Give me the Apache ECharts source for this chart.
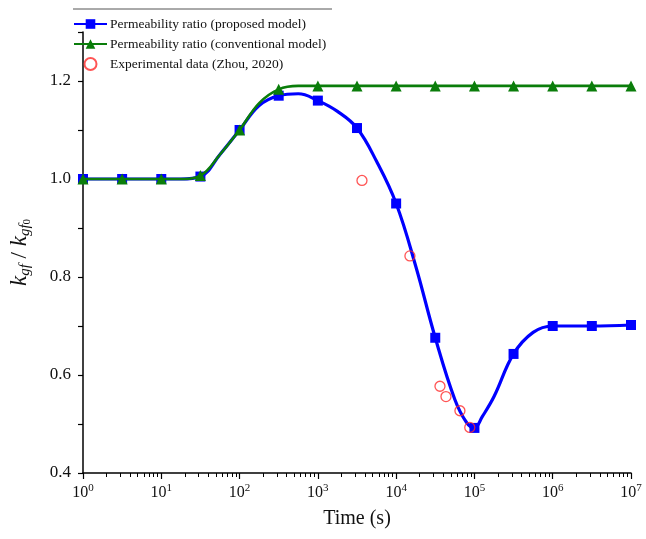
<!DOCTYPE html>
<html><head><meta charset="utf-8">
<script src="https://cdn.jsdelivr.net/npm/echarts@6/dist/echarts.min.js"></script>
<style>html,body{margin:0;padding:0;background:#fff}#c{width:646px;height:539px}</style>
</head><body><div id="c"></div>
<script>
// Time points for the model curves (s)
const timeCurve = [1, 1.78, 3.16, 5.62, 10, 17.8, 31.6, 56.2, 100, 178, 316, 562, 1000, 1780, 3160, 5620, 10000, 17800, 31600, 56200, 79400, 100000, 126000, 178000, 316000, 562000, 1000000, 3160000, 10000000];
// Proposed model values
const proposedVals = [1.0, 1.0, 1.0, 1.0, 1.0, 1.0, 1.005, 1.05, 1.10, 1.15, 1.17, 1.174, 1.16, 1.138, 1.104, 1.036, 0.95, 0.822, 0.676, 0.55, 0.503, 0.492, 0.515, 0.556, 0.643, 0.687, 0.70, 0.70, 0.702];
// Conventional model values
const conventionalVals = [1.0, 1.0, 1.0, 1.0, 1.0, 1.0, 1.007, 1.05, 1.10, 1.155, 1.183, 1.19, 1.19, 1.19, 1.19, 1.19, 1.19, 1.19, 1.19, 1.19, 1.19, 1.19, 1.19, 1.19, 1.19, 1.19, 1.19, 1.19, 1.19];
// Times at which markers are drawn
const markerTimes = [1, 3.16, 10, 31.6, 100, 316, 1000, 3160, 10000, 31600, 100000, 316000, 1000000, 3160000, 10000000];
// Experimental data (Zhou, 2020)
const expTime = [3660, 15000, 36300, 43300, 65300, 87200];
const expVals = [0.997, 0.843, 0.577, 0.556, 0.527, 0.493];

const names = ['Permeability ratio (proposed model)', 'Permeability ratio (conventional model)', 'Experimental data (Zhou, 2020)'];

function build(vals) {
  return timeCurve.map((t, i) => {
    const item = { value: [t, vals[i]] };
    if (markerTimes.indexOf(t) < 0) item.symbol = 'none';
    return item;
  });
}
// minor tick positions (log10 of 2..9 per decade)
const minorPos = [];
for (let d = 0; d < 7; d++) for (let m = 2; m <= 9; m++) minorPos.push(d + Math.log10(m));

const font = 'Liberation Serif';
const chart = echarts.init(document.getElementById('c'));
chart.setOption({
  backgroundColor: '#fff',
  animation: false,
  textStyle: { fontFamily: font },
  grid: { left: 83, right: 15, top: 32, bottom: 66, containLabel: false },
  legend: {
    orient: 'vertical', left: 73, top: 17, padding: 0, itemWidth: 33, itemHeight: 12, itemGap: 6,
    textStyle: { fontFamily: font, fontSize: 13.5, lineHeight: 12, color: '#111', padding: [0, 0, 0, -2] },
    data: [
      { name: names[0] },
      { name: names[1] },
      { name: names[2], icon: 'circle' }
    ]
  },
  graphic: [{ type: 'line', shape: { x1: 73, y1: 9, x2: 332, y2: 9 }, style: { stroke: '#555', lineWidth: 1 } }],
  xAxis: [{
    type: 'log', logBase: 10, min: 1, max: 10000000,
    name: 'Time (s)', nameLocation: 'middle', nameGap: 36,
    nameTextStyle: { fontFamily: font, fontSize: 20, color: '#111' },
    axisLine: { lineStyle: { color: '#000', width: 1.5 } },
    axisTick: { inside: false, length: 6, lineStyle: { color: '#000', width: 1.2 } },
    splitLine: { show: false },
    axisLabel: {
      color: '#111', margin: 10,
      formatter: v => '{b|10}{e|' + Math.round(Math.log10(v)) + '}',
      rich: { b: { fontFamily: font, fontSize: 16, color: '#111' }, e: { fontFamily: font, fontSize: 11, color: '#111', verticalAlign: 'top', padding: [0, 0, 8, 0] } }
    }
  }, {
    type: 'value', min: 0, max: 7, position: 'bottom',
    axisLine: { show: false }, axisLabel: { show: false }, splitLine: { show: false },
    axisTick: { show: true, length: 4, customValues: minorPos, lineStyle: { color: '#000', width: 1 } }
  }],
  yAxis: {
    type: 'value', min: 0.4, max: 1.3, interval: 0.1,
    name: '{k|k}{s|gf}{n| / }{k|k}{s|gf}{ss|0}', nameLocation: 'middle', nameGap: 50,
    nameTextStyle: {
      rich: {
        k: { fontFamily: font, fontStyle: 'italic', fontSize: 23, color: '#111' },
        s: { fontFamily: font, fontStyle: 'italic', fontSize: 15, color: '#111', verticalAlign: 'bottom', padding: [11, 0, 0, 0] },
        ss: { fontFamily: font, fontSize: 11, color: '#111', verticalAlign: 'bottom', padding: [16, 0, 0, 0] },
        n: { fontFamily: font, fontSize: 23, color: '#111' }
      }
    },
    axisLine: { show: true, lineStyle: { color: '#000', width: 1.5 } },
    axisTick: { show: true, inside: false, length: 5, lineStyle: { color: '#000', width: 1.2 } },
    splitLine: { show: false },
    axisLabel: {
      fontFamily: font, fontSize: 17, color: '#111', margin: 12,
      formatter: v => (Math.round(v * 10) % 2 === 0 && v < 1.25) ? v.toFixed(1) : ''
    }
  },
  series: [
    {
      name: names[0], type: 'line', data: build(proposedVals), smooth: 0.4,
      symbol: 'rect', symbolSize: 10, color: '#0000ff',
      lineStyle: { color: '#0000ff', width: 3.2 }, itemStyle: { color: '#0000ff' }, z: 3
    },
    {
      name: names[1], type: 'line', data: build(conventionalVals), smooth: 0.4,
      symbol: 'triangle', symbolSize: 11, color: '#0a7d0a',
      lineStyle: { color: '#0a7d0a', width: 2.6 }, itemStyle: { color: '#0a7d0a' }, z: 4
    },
    {
      name: names[2], type: 'scatter', data: expTime.map((t, i) => [t, expVals[i]]),
      symbol: 'circle', symbolSize: 10, color: '#ff2a2a',
      itemStyle: { color: 'rgba(255,255,255,0)', borderColor: '#ff2a2a', borderWidth: 1.3 }, z: 5
    }
  ]
});
</script></body></html>
